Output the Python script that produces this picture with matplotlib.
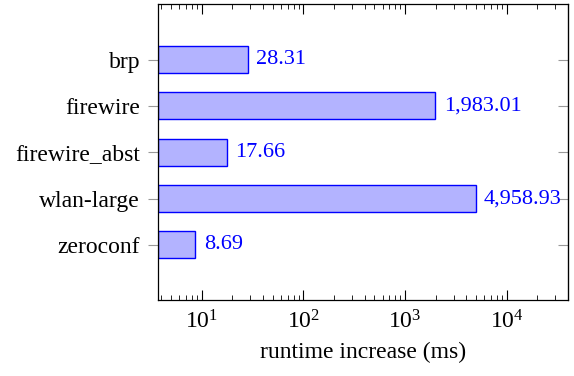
import numpy as np
from matplotlib import pyplot as plt
from matplotlib.ticker import LogLocator, LogFormatterSciNotation, NullFormatter

plt.rcParams["font.family"] = "Liberation Serif"
plt.rcParams["mathtext.fontset"] = "custom"
plt.rcParams["mathtext.rm"] = "Liberation Serif"
plt.rcParams["mathtext.it"] = "Liberation Serif:italic"

models = ["brp", "firewire", "firewire_abst", "wlan-large", "zeroconf"]
increase_ms = [28.31, 1983.01, 17.66, 4958.93, 8.69]

fill = "#b3b3ff"
edge = "#0000ff"
tick_gray = "#999999"

fig = plt.figure(figsize=(5.74, 3.76), dpi=100)
ax = fig.add_axes([0.2753, 0.2008, 0.7142, 0.7886])

xmin = 3.72
y = np.arange(len(models))
ax.barh(y, np.asarray(increase_ms) - xmin, left=xmin, height=0.58,
        color=fill, edgecolor=edge, linewidth=1.0, zorder=2)

for yi, v in zip(y, increase_ms):
    ax.annotate(f"{v:,.2f}", (v, yi), xytext=(6, 0), textcoords="offset points",
                ha="left", va="center", color=edge, fontsize=16)

ax.set_xscale("log")
ax.set_xlim(xmin, 40000)
ax.set_ylim(len(models) - 1 + 1.2, -1.2)

ax.xaxis.set_major_locator(LogLocator(base=10, numticks=10))
ax.xaxis.set_major_formatter(LogFormatterSciNotation())
ax.xaxis.set_minor_locator(LogLocator(base=10, subs=np.arange(2, 10), numticks=20))
ax.xaxis.set_minor_formatter(NullFormatter())
ax.tick_params(axis="x", which="major", direction="in", top=True, bottom=True,
               length=7, width=0.8, labelsize=17, pad=7)
ax.tick_params(axis="x", which="minor", direction="in", top=True, bottom=True,
               length=3.5, width=0.6)

# category ticks: outward on the left, inward on the right
ax.set_yticks(y)
ax.set_yticklabels(models)
ax.tick_params(axis="y", which="major", direction="out", left=True, right=False,
               length=7, width=0.8, color=tick_gray, labelsize=17, pad=6)
right = ax.secondary_yaxis("right")
right.set_yticks(y)
right.set_yticklabels([])
right.tick_params(direction="in", length=7, width=0.8, color=tick_gray)

for s in ax.spines.values():
    s.set_linewidth(0.9)

ax.set_xlabel("runtime increase (ms)", fontsize=17, labelpad=6)

plt.savefig("out.png", dpi=100)
